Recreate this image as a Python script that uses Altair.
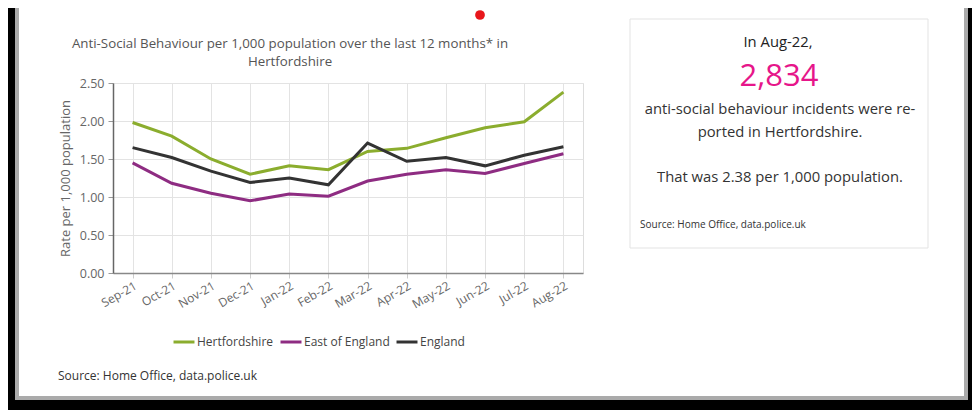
import altair as alt
import pandas as pd

months = ["Sep-21", "Oct-21", "Nov-21", "Dec-21", "Jan-22", "Feb-22",
          "Mar-22", "Apr-22", "May-22", "Jun-22", "Jul-22", "Aug-22"]
hertfordshire = [1.98, 1.80, 1.50, 1.30, 1.41, 1.36, 1.60, 1.64, 1.78, 1.91, 1.99, 2.38]
east_of_england = [1.45, 1.18, 1.05, 0.95, 1.04, 1.01, 1.21, 1.30, 1.36, 1.31, 1.44, 1.57]
england = [1.65, 1.52, 1.34, 1.19, 1.25, 1.16, 1.71, 1.47, 1.52, 1.41, 1.55, 1.66]
series_names = ["Hertfordshire", "East of England", "England"]
series_colors = ["#8bad2e", "#8e2c82", "#333333"]
y_ticks = [0, 0.5, 1.0, 1.5, 2.0, 2.5]

title_lines = ["Anti-Social Behaviour per 1,000 population over the last 12 months* in",
               "Hertfordshire"]
source_text = "Source: Home Office, data.police.uk"
box_month = "In Aug-22,"
box_count = "2,834"
box_lines = ["anti-social behaviour incidents were re-", "ported in Hertfordshire."]
box_rate = "That was 2.38 per 1,000 population."

FONT = "Open Sans"
W, H = 470, 190
TOTAL_W, TOTAL_H = 964, 402
PAD_L, PAD_T = 105, 75

rows = []
for name, vals in zip(series_names, [hertfordshire, east_of_england, england]):
    for m, v in zip(months, vals):
        rows.append({"month": m, "value": v, "series": name})
df = pd.DataFrame(rows)

one = pd.DataFrame({"k": [0]})


def rect(x1, x2, y1, y2, fill, stroke=None):
    kw = {"fill": fill}
    if stroke:
        kw.update(stroke=stroke, strokeWidth=1)
    else:
        kw.update(strokeWidth=0)
    return alt.Chart(one).mark_rect(**kw).encode(
        x=alt.value(x1), x2=alt.value(x2), y=alt.value(y1), y2=alt.value(y2))


def txt(s, x, y, size, color, align="center", weight="normal"):
    return alt.Chart(pd.DataFrame({"t": [s]})).mark_text(
        font=FONT, fontSize=size, color=color, align=align, baseline="middle",
        fontWeight=weight).encode(x=alt.value(x), y=alt.value(y), text="t:N")


box = rect(517, 815, -64, 165, "white", "#e3e3e3")

lines = alt.Chart(df).mark_line(strokeWidth=3).encode(
    x=alt.X("month:N", sort=months, scale=alt.Scale(type="point", padding=0.5),
            axis=alt.Axis(title=None, labelAngle=-30, labelAlign="right",
                          labelBaseline="top", labelFont=FONT, labelFontSize=12,
                          labelColor="#666", labelPadding=2, tickSize=5,
                          tickColor="#cccccc", domainColor="#888888",
                          domainWidth=1.5, gridColor="#e3e3e3", grid=True)),
    y=alt.Y("value:Q", scale=alt.Scale(domain=[0, 2.5]),
            axis=alt.Axis(values=y_ticks, format=".2f", title="Rate per 1,000 population",
                          titleFont=FONT, titleFontSize=13, titleFontWeight="normal",
                          titleColor="#666", titleX=-48, titleY=95, titleAngle=-90,
                          titleAlign="center", titleBaseline="middle",
                          labelFont=FONT, labelFontSize=12.5, labelColor="#666",
                          labelPadding=4, tickSize=5, tickColor="#999999",
                          domainColor="#666666", domainWidth=1.5,
                          gridColor="#e3e3e3", grid=True)),
    color=alt.Color("series:N", sort=series_names,
                    scale=alt.Scale(domain=series_names, range=series_colors),
                    legend=alt.Legend(title=None, orient="none", legendX=59, legendY=247,
                                      direction="horizontal", symbolType="stroke",
                                      symbolSize=440, symbolStrokeWidth=3,
                                      labelFont=FONT, labelFontSize=12, labelColor="#444",
                                      labelOffset=1, columnPadding=0)),
)

layers = [box, lines]
layers.append(txt(title_lines[0], 177, -39, 13.3, "#555"))
layers.append(txt(title_lines[1], 177, -21, 13.3, "#555"))
layers.append(txt(source_text, -55, 293, 12, "#333", align="left"))
layers.append(txt(box_month, 665, -40, 14.8, "#222"))
layers.append(txt(box_count, 666, -6, 31, "#e6168a"))
layers.append(txt(box_lines[0], 667, 27, 14.8, "#333"))
layers.append(txt(box_lines[1], 667, 50, 14.8, "#333"))
layers.append(txt(box_rate, 667, 95, 14.8, "#333"))
layers.append(txt(source_text, 527, 142, 10, "#333", align="left"))

# red dot
layers.append(alt.Chart(one).mark_circle(size=95, color="#e8161b", opacity=1).encode(
    x=alt.value(367), y=alt.value(-68)))

# black frame with inner shadow
layers.append(rect(-98, -94, -75, 322, "#aaaaaa"))
layers.append(rect(851, 855, -75, 322, "#aaaaaa"))
layers.append(rect(-98, 855, 313, 317, "#aaaaaa"))
layers.append(rect(-105, -98, -75, 327, "#000000"))
layers.append(rect(855, 859, -75, 327, "#000000"))
layers.append(rect(-105, 859, 317, 327, "#000000"))

chart = alt.layer(*layers).properties(
    width=W, height=H, autosize="none",
    padding={"left": PAD_L, "top": PAD_T, "right": TOTAL_W - PAD_L - W,
             "bottom": TOTAL_H - PAD_T - H},
).configure_view(stroke=None).configure(background="white")

chart.save("out.html", embed_options={"renderer": "svg", "actions": False})
